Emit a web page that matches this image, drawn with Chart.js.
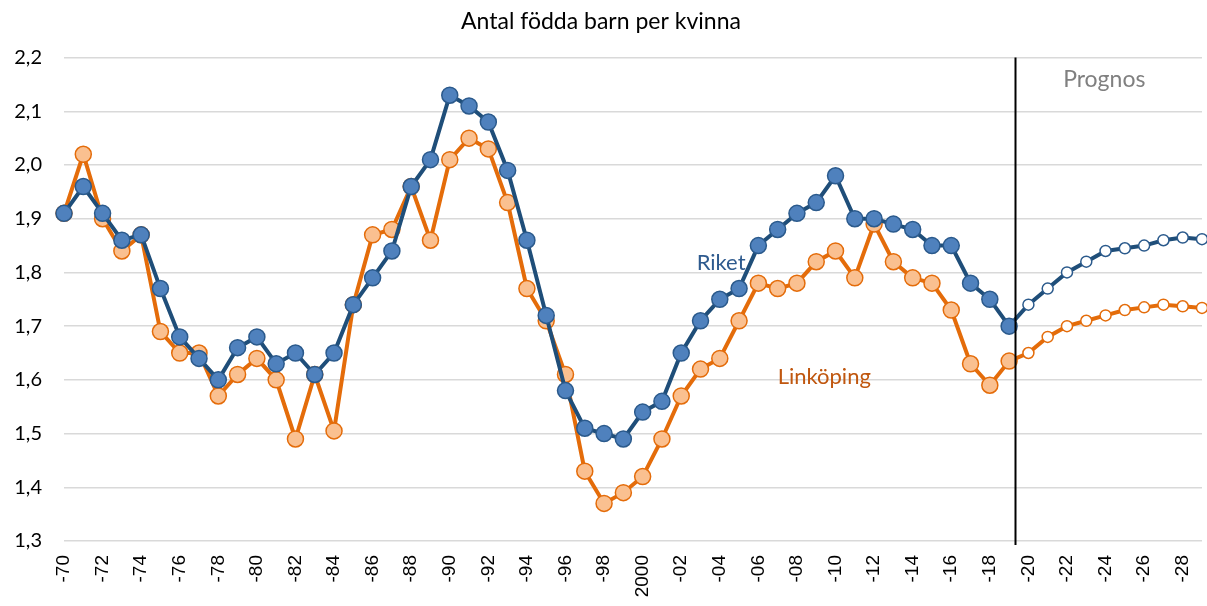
<!DOCTYPE html>
<html>
<head>
<meta charset="utf-8">
<script src="https://cdn.jsdelivr.net/npm/chart.js@4"></script>
<style>
  html, body { margin: 0; padding: 0; background: #fff; }
  #wrap { width: 1207px; height: 606px; }
</style>
</head>
<body>
<div id="wrap"><canvas id="fodda"></canvas></div>
<script>
// år 1970-2029, etikett visas vartannat år
var ar = ['-70','-71','-72','-73','-74','-75','-76','-77','-78','-79',
          '-80','-81','-82','-83','-84','-85','-86','-87','-88','-89',
          '-90','-91','-92','-93','-94','-95','-96','-97','-98','-99',
          '2000','-01','-02','-03','-04','-05','-06','-07','-08','-09',
          '-10','-11','-12','-13','-14','-15','-16','-17','-18','-19',
          '-20','-21','-22','-23','-24','-25','-26','-27','-28','-29'];

// utfall 1970-2019
var riketUtfall = [1.91,1.96,1.91,1.86,1.87,1.77,1.68,1.64,1.60,1.66,
                   1.68,1.63,1.65,1.61,1.65,1.74,1.79,1.84,1.96,2.01,
                   2.13,2.11,2.08,1.99,1.86,1.72,1.58,1.51,1.50,1.49,
                   1.54,1.56,1.65,1.71,1.75,1.77,1.85,1.88,1.91,1.93,
                   1.98,1.90,1.90,1.89,1.88,1.85,1.85,1.78,1.75,1.70];
var linkUtfall  = [1.91,2.02,1.90,1.84,1.87,1.69,1.65,1.65,1.57,1.61,
                   1.64,1.60,1.49,1.61,1.505,1.74,1.87,1.88,1.96,1.86,
                   2.01,2.05,2.03,1.93,1.77,1.71,1.61,1.43,1.37,1.39,
                   1.42,1.49,1.57,1.62,1.64,1.71,1.78,1.77,1.78,1.82,
                   1.84,1.79,1.89,1.82,1.79,1.78,1.73,1.63,1.59,1.635];

// prognos 2020-2029
var riketPrognos = [1.74,1.77,1.80,1.82,1.84,1.845,1.85,1.86,1.865,1.862];
var linkPrognos  = [1.65,1.68,1.70,1.71,1.72,1.73,1.735,1.74,1.737,1.734];

var yTicks = [1.3,1.4,1.5,1.6,1.7,1.8,1.9,2.0,2.1,2.2];

var nUtfall = riketUtfall.length;

function punktFarg(fyll) {
    return function(ctx) { return ctx.dataIndex >= nUtfall ? '#ffffff' : fyll; };
}
function punktRadie(ctx) { return ctx.dataIndex >= nUtfall ? 5.5 : 8; }

// lodrät linje vid prognosstart + textetiketter
var prognosPlugin = {
    id: 'prognos',
    afterDatasetsDraw: function(chart) {
        var c = chart.ctx, xs = chart.scales.x, ys = chart.scales.y, a = chart.chartArea;
        var steg = xs.getPixelForValue(nUtfall) - xs.getPixelForValue(nUtfall - 1);
        var lx = Math.round(xs.getPixelForValue(nUtfall - 1) + steg * 0.3) + 0.5;
        c.save();
        c.strokeStyle = '#000';
        c.lineWidth = 2;
        c.beginPath();
        c.moveTo(lx, a.top);
        c.lineTo(lx, a.bottom + 4);
        c.stroke();

        c.font = '22px Lato';
        c.textBaseline = 'middle';
        c.textAlign = 'left';
        c.fillStyle = '#2e5a8e';
        c.fillText('Riket', xs.getPixelForValue(32.8), ys.getPixelForValue(1.818));
        c.fillStyle = '#c0570f';
        c.fillText('Linköping', xs.getPixelForValue(37.0), ys.getPixelForValue(1.606));
        c.fillStyle = '#808080';
        c.font = '23px Lato';
        c.fillText('Prognos', xs.getPixelForValue(51.8), ys.getPixelForValue(2.159));
        c.restore();
    }
};

new Chart(document.getElementById('fodda'), {
    type: 'line',
    data: {
        labels: ar,
        datasets: [{
            label: 'Riket',
            data: riketUtfall.concat(riketPrognos),
            borderColor: '#1f4e79',
            borderWidth: 4,
            pointBackgroundColor: punktFarg('#4f81bd'),
            pointBorderColor: '#2b5a8c',
            pointBorderWidth: 1.5,
            pointRadius: punktRadie,
            tension: 0
        }, {
            label: 'Linköping',
            data: linkUtfall.concat(linkPrognos),
            borderColor: '#e46c0a',
            borderWidth: 4,
            pointBackgroundColor: punktFarg('#fac090'),
            pointBorderColor: '#e46c0a',
            pointBorderWidth: 1.5,
            pointRadius: punktRadie,
            tension: 0
        }]
    },
    options: {
        responsive: true,
        maintainAspectRatio: false,
        animation: false,
        layout: { autoPadding: false, padding: { left: 0, right: 5, top: 0, bottom: 0 } },
        plugins: {
            legend: { display: false },
            tooltip: { enabled: false },
            title: {
                display: true,
                text: 'Antal födda barn per kvinna',
                color: '#000',
                font: { family: 'Lato', size: 23, weight: 'normal' },
                padding: { top: 8, bottom: 22 }
            }
        },
        scales: {
            x: {
                offset: false,
                grid: { display: false, drawTicks: false },
                border: { display: false },
                afterFit: function(s) { s.height = 65; s.paddingLeft = 0; s.paddingRight = 0; },
                ticks: {
                    autoSkip: false,
                    maxRotation: 90,
                    minRotation: 90,
                    padding: 14,
                    color: '#000',
                    font: { family: 'Liberation Sans', size: 19 },
                    callback: function(v, i) { return i % 2 === 0 ? ar[i] : ''; }
                }
            },
            y: {
                min: yTicks[0],
                max: yTicks[yTicks.length - 1],
                afterBuildTicks: function(s) { s.ticks = yTicks.map(function(v) { return { value: v }; }); },
                afterFit: function(s) { s.width = 64; },
                grid: { color: '#d9d9d9', lineWidth: 1.5, drawTicks: false },
                border: { display: false },
                ticks: {
                    padding: 22,
                    color: '#000',
                    font: { family: 'Lato', size: 20 },
                    callback: function(v) { return v.toFixed(1).replace('.', ','); }
                }
            }
        }
    },
    plugins: [prognosPlugin]
});
</script>
</body>
</html>
